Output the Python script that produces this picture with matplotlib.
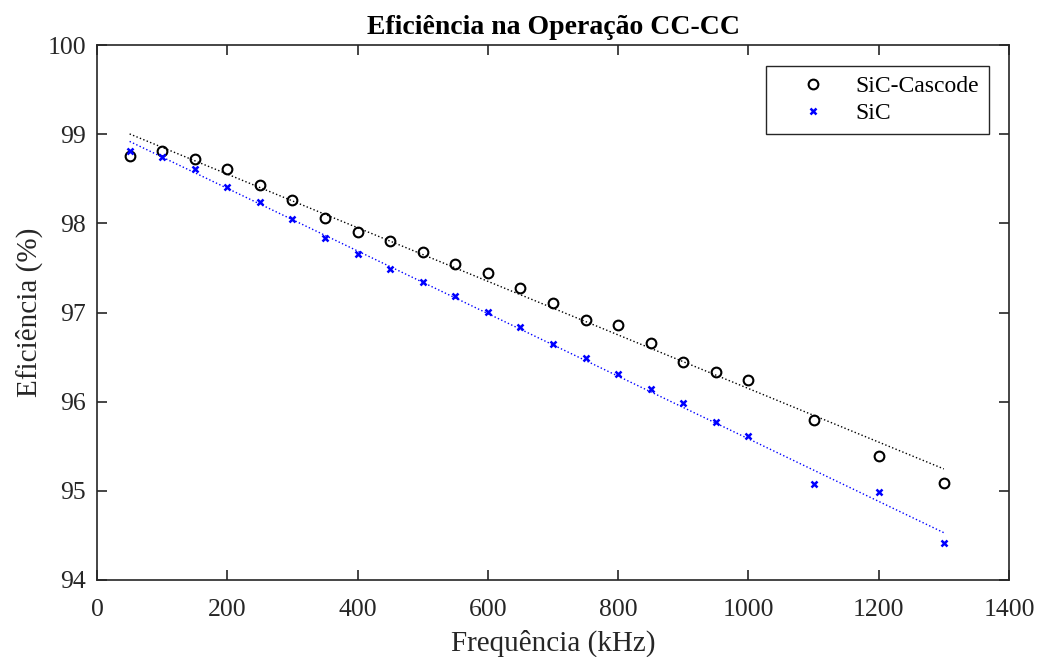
import numpy as np
import matplotlib
matplotlib.use('Agg')
import matplotlib.pyplot as plt

plt.rcParams['font.family'] = ['Liberation Serif', 'DejaVu Serif']

# frequencia (kHz)
freq = [50, 100, 150, 200, 250, 300, 350, 400, 450, 500, 550, 600, 650,
        700, 750, 800, 850, 900, 950, 1000, 1100, 1200, 1300]
# eficiencia (%)
ef_cascode = [98.76, 98.81, 98.72, 98.61, 98.43, 98.26, 98.06, 97.90, 97.80,
              97.68, 97.54, 97.44, 97.28, 97.11, 96.92, 96.86, 96.66, 96.45,
              96.33, 96.24, 95.80, 95.39, 95.09]
ef_sic = [98.81, 98.74, 98.61, 98.41, 98.24, 98.05, 97.83, 97.66, 97.49,
          97.34, 97.19, 97.01, 96.84, 96.65, 96.49, 96.31, 96.14, 95.99,
          95.77, 95.62, 95.08, 94.99, 94.41]

x = np.array(freq, dtype=float)

fig = plt.figure(figsize=(10.39, 6.57), dpi=100)
ax = fig.add_axes([0.0934, 0.1172, 0.8777, 0.8143])

# pontos
ax.plot(x, ef_cascode, 'o', mfc='none', mec='black', mew=1.5, ms=7,
        label='SiC-Cascode')
ax.plot(x, ef_sic, 'x', color='blue', mew=1.8, ms=5, label='SiC')

# ajuste linear
p1 = np.polyfit(x, ef_cascode, 1)
p2 = np.polyfit(x, ef_sic, 1)
ax.plot(x, np.polyval(p1, x), ':', color='black', lw=1.0)
ax.plot(x, np.polyval(p2, x), ':', color='blue', lw=1.0)

ax.set_xlim(0, 1400)
ax.set_ylim(94, 100)
ax.set_xticks(np.arange(0, 1401, 200))
ax.set_yticks(np.arange(94, 101, 1))

ax.tick_params(direction='in', top=True, right=True, labelsize=18.5,
               length=7, width=1.2, colors='#262626')
ax.tick_params(axis='x', pad=14)
ax.tick_params(axis='y', pad=8)
for s in ax.spines.values():
    s.set_linewidth(1.2)
    s.set_color('#262626')

ax.set_xlabel('Frequência (kHz)', fontsize=21, color='#262626', labelpad=6)
ax.set_ylabel('Eficiência (%)', fontsize=21, color='#262626', labelpad=3)
ax.set_title('Eficiência na Operação CC-CC', fontsize=20, fontweight='bold',
             pad=8)

leg = ax.legend(loc='upper right', bbox_to_anchor=(0.978, 0.961),
                borderaxespad=0, fontsize=17,
                fancybox=False, edgecolor='#262626', framealpha=1,
                handletextpad=0.2, borderpad=0.4, labelspacing=0.25,
                handlelength=3.2)
leg.get_frame().set_linewidth(1.0)

fig.savefig('out.png', dpi=100)
